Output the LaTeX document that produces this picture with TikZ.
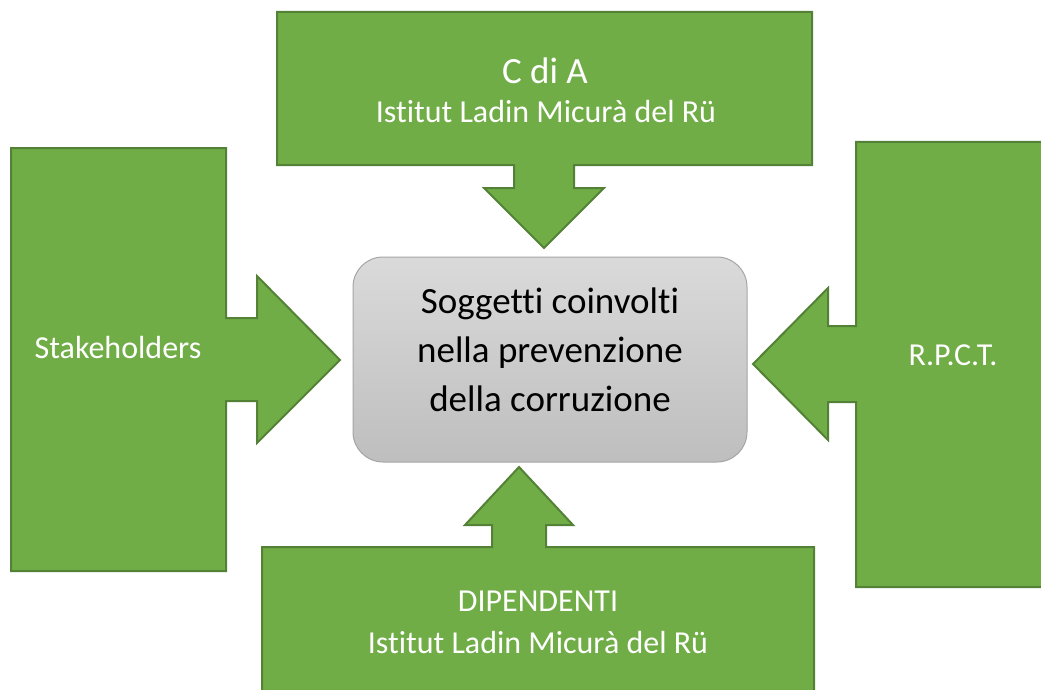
\documentclass[tikz,border=0pt]{standalone}
\usepackage{fontspec}
\setmainfont{Carlito}[Ligatures={NoCommon}]
\definecolor{gfill}{HTML}{70AD47}
\definecolor{gline}{HTML}{538135}
\definecolor{boxtop}{HTML}{DADADA}
\definecolor{boxbot}{HTML}{BEBEBE}
\definecolor{boxline}{HTML}{A5A5A5}
\begin{document}
\begin{tikzpicture}[x=1pt,y=-1pt,
  callout/.style={fill=gfill,draw=gline,line width=2pt,line join=miter},
  wtxt/.style={text=white,inner sep=0pt,anchor=base,font=\fontsize{32}{38}\selectfont},
  btxt/.style={text=black,inner sep=0pt,anchor=base,font=\fontsize{37}{38}\selectfont}]
\useasboundingbox (0,0) rectangle (1041,690);
\begin{scope}
\clip (0,0) rectangle (1041,690);
% top callout
\draw[callout] (277,12) -- (812,12) -- (812,165) -- (574,165) -- (574,188) -- (604,188)
  -- (544,248) -- (484,188) -- (514,188) -- (514,165) -- (277,165) -- cycle;
% left callout
\draw[callout] (11,148) -- (226,148) -- (226,318) -- (257,318) -- (257,276) -- (340,360)
  -- (257,443) -- (257,401) -- (226,401) -- (226,571) -- (11,571) -- cycle;
% right callout
\draw[callout] (856,142) -- (1060,142) -- (1060,587) -- (856,587) -- (856,402) -- (828,402)
  -- (828,440) -- (753,364) -- (828,288) -- (828,326) -- (856,326) -- cycle;
% bottom callout
\draw[callout] (262,547) -- (492,547) -- (492,525) -- (465,525) -- (519,467) -- (573,525)
  -- (546,525) -- (546,547) -- (814,547) -- (814,700) -- (262,700) -- cycle;
\end{scope}
% center box
\draw[draw=boxline,line width=1pt,rounded corners=30pt,top color=boxtop,bottom color=boxbot]
  (353,257) rectangle (747,462);
\node[btxt] (c1) at (550,313) {Soggetti coinvolti};
\node[btxt] (c2) at (550,362) {nella prevenzione};
\node[btxt] (c3) at (550,411) {della corruzione};
% texts
\node[wtxt,font=\fontsize{37}{40}\selectfont] (t1) at (545,84) {C di A};
\node[wtxt] (t2) at (546,123) {Istitut Ladin Micurà del Rü};
\node[wtxt] (l1) at (118,358) {Stakeholders};
\node[wtxt] (r1) at (953,365) {R.P.C.T.};
\node[wtxt] (b1) at (538,611) {DIPENDENTI};
\node[wtxt] (b2) at (538,653) {Istitut Ladin Micurà del Rü};
\end{tikzpicture}
\end{document}
